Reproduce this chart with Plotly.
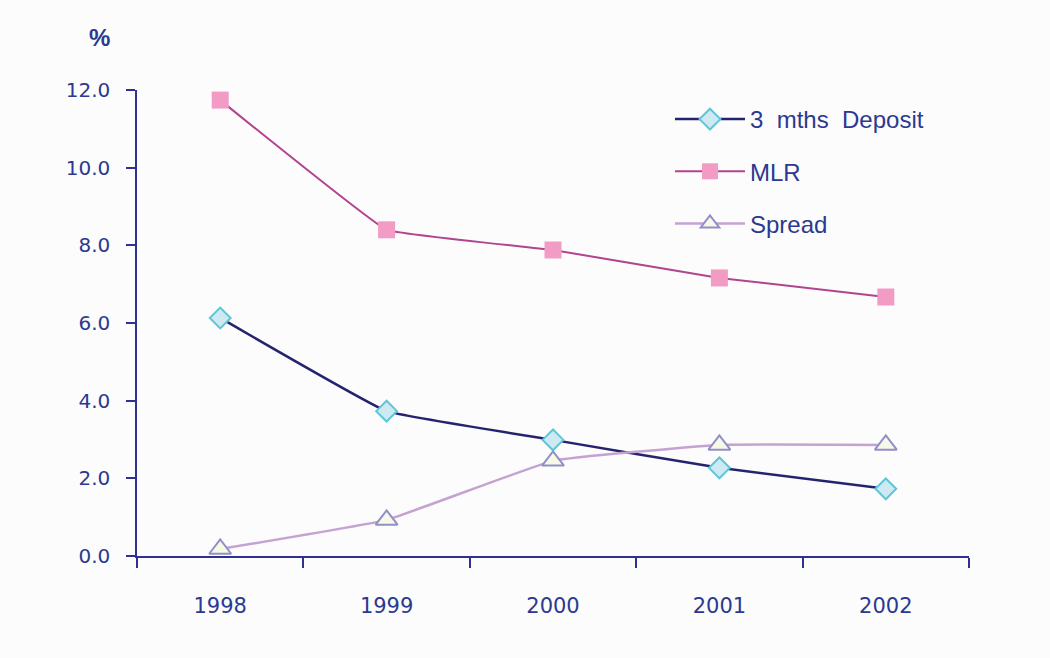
import plotly.graph_objects as go

years = ["1998", "1999", "2000", "2001", "2002"]
deposit = [6.13, 3.73, 2.99, 2.27, 1.73]
mlr = [11.74, 8.40, 7.88, 7.16, 6.67]
spread = [0.18, 0.93, 2.45, 2.86, 2.86]
y_ticks = [0, 2, 4, 6, 8, 10, 12]
y_labels = ["0.0", "2.0", "4.0", "6.0", "8.0", "10.0", "12.0"]

TXT = "#2b3990"
AX = "#2e3192"

fig = go.Figure()
fig.add_trace(go.Scatter(
    x=years, y=deposit, name="3  mths  Deposit", mode="lines+markers",
    line=dict(color="#24246e", width=2.5, shape="spline", smoothing=0.25),
    marker=dict(symbol="diamond", size=16, color="#cfe9f3",
                line=dict(color="#5ec6d6", width=2)),
    legendgroup="a"))
fig.add_trace(go.Scatter(
    x=years, y=mlr, name="MLR", mode="lines+markers",
    line=dict(color="#b2448f", width=2, shape="spline", smoothing=0.2),
    marker=dict(symbol="square", size=17, color="#f29cc5",
                line=dict(width=0)),
    legendgroup="b"))
fig.add_trace(go.Scatter(
    x=years, y=spread, name="Spread", mode="lines+markers",
    line=dict(color="#c4a2d2", width=2.5, shape="spline", smoothing=0.3),
    marker=dict(symbol="triangle-up", size=19, color="#f8f8e6",
                line=dict(color="#9090c8", width=2)),
    legendgroup="c"))

fig.update_layout(
    width=1050, height=658,
    margin=dict(l=137, r=81, t=90, b=102),
    paper_bgcolor="#fcfcfc", plot_bgcolor="#fcfcfc",
    font=dict(family="Liberation Sans, Arial, sans-serif", color=TXT),
    showlegend=True,
    legend=dict(x=0.6406, y=0.985, xanchor="left", yanchor="top",
                bgcolor="rgba(0,0,0,0)", font=dict(size=24, color=TXT),
                tracegroupgap=18, itemwidth=70),
    xaxis=dict(type="category", range=[-0.5, 4.5], tickson="boundaries",
               showline=True, linecolor=AX, linewidth=1.5,
               ticks="outside", ticklen=10, tickcolor=AX, tickwidth=1.5,
               showgrid=False, zeroline=False, ticklabelstandoff=30,
               tickfont=dict(family="DejaVu Sans", size=21, color=TXT)),
    yaxis=dict(range=[0, 12], tickvals=y_ticks, ticktext=y_labels,
               showline=True, linecolor=AX, linewidth=1.5,
               ticks="outside", ticklen=9, tickcolor=AX, tickwidth=1.5,
               showgrid=False, zeroline=False, ticklabelstandoff=12,
               tickfont=dict(family="DejaVu Sans", size=20, color=TXT)),
    annotations=[dict(text="<b>%</b>", xref="paper", yref="paper",
                      x=-0.045, y=1.112, xanchor="center", yanchor="middle",
                      showarrow=False, font=dict(size=24, color=TXT))],
)
fig.write_html("out.html")
